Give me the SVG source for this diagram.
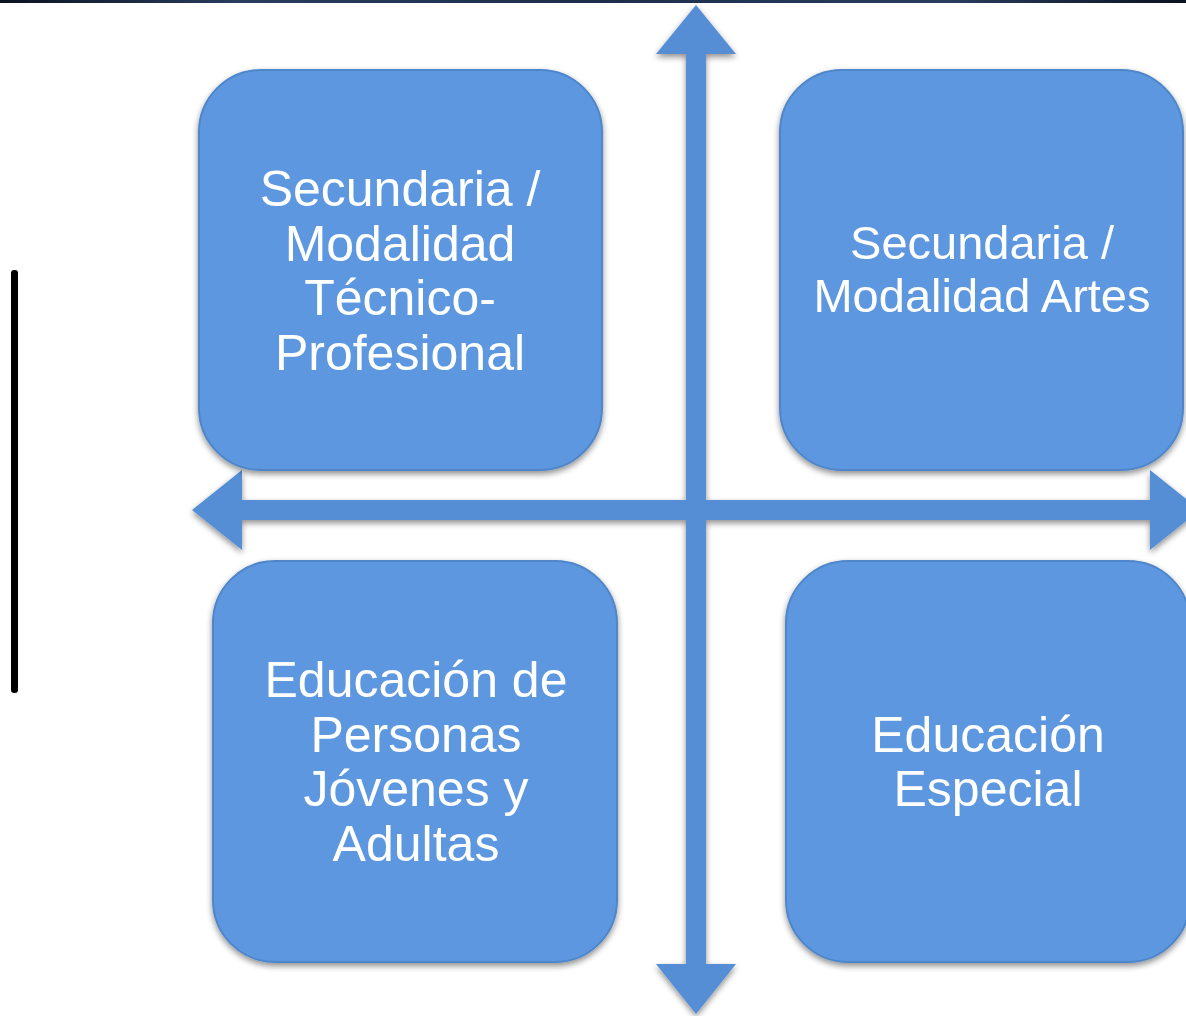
<svg xmlns="http://www.w3.org/2000/svg" width="1186" height="1016" viewBox="0 0 1186 1016">
<defs>
<filter id="sh" x="-10%" y="-10%" width="120%" height="120%">
<feGaussianBlur in="SourceAlpha" stdDeviation="3"/>
<feOffset dx="0" dy="3"/>
<feComponentTransfer><feFuncA type="linear" slope="0.45"/></feComponentTransfer>
<feMerge><feMergeNode/><feMergeNode in="SourceGraphic"/></feMerge>
</filter>
<linearGradient id="top" x1="0" y1="0" x2="1" y2="0">
<stop offset="0" stop-color="#0b1220"/>
<stop offset="0.2" stop-color="#2a3d5e"/>
<stop offset="0.5" stop-color="#1d2e4c"/>
<stop offset="0.8" stop-color="#2a3d5e"/>
<stop offset="1" stop-color="#0b1220"/>
</linearGradient>
</defs>
<style>
.box{fill:#5C97E0;stroke:#4F86C9;stroke-width:2}
.arrow{fill:#558ED5}
.t{font-family:"Liberation Sans",Arial,sans-serif;font-size:50px;fill:#ffffff;text-anchor:middle}
.s{font-size:47px}
</style>
<rect x="0" y="0" width="1186" height="1016" fill="#ffffff"/>
<rect x="0" y="0" width="1186" height="3" fill="url(#top)"/>
<rect x="11" y="270" width="7" height="423" rx="3" fill="#000000"/>
<g id="connectors" filter="url(#sh)">
<polygon class="arrow" points="696,5 736,54 706,54 706,964 736,964 696,1014 656,964 686,964 686,54 656,54"/>
<polygon class="arrow" points="192,510 242,470 242,500 1150,500 1150,470 1200,510 1150,550 1150,520 242,520 242,550"/>
</g>
<g id="node-tl" filter="url(#sh)">
<rect class="box" x="199" y="70" width="403" height="400" rx="62"/>
<text class="t" x="400" y="206">Secundaria /</text>
<text class="t" x="400" y="261">Modalidad</text>
<text class="t" x="400" y="315">Técnico-</text>
<text class="t" x="400" y="370">Profesional</text>
</g>
<g id="node-tr" filter="url(#sh)">
<rect class="box" x="780" y="70" width="403" height="400" rx="62"/>
<text class="t s" x="982" y="259">Secundaria /</text>
<text class="t s" x="982" y="312">Modalidad Artes</text>
</g>
<g id="node-bl" filter="url(#sh)">
<rect class="box" x="213" y="561" width="404" height="401" rx="62"/>
<text class="t" x="416" y="697">Educación de</text>
<text class="t" x="416" y="752">Personas</text>
<text class="t" x="416" y="806">Jóvenes y</text>
<text class="t" x="416" y="861">Adultas</text>
</g>
<g id="node-br" filter="url(#sh)">
<rect class="box" x="786" y="561" width="404" height="401" rx="62"/>
<text class="t" x="988" y="752">Educación</text>
<text class="t" x="988" y="806">Especial</text>
</g>
</svg>
